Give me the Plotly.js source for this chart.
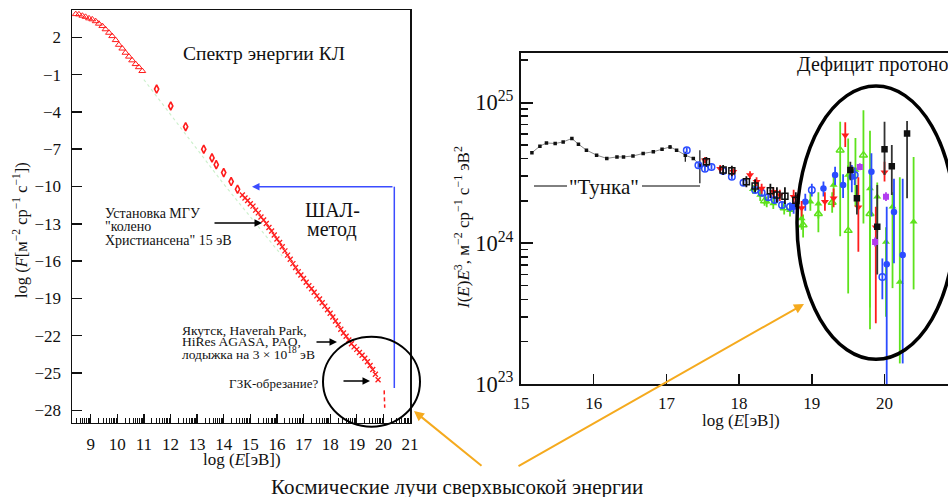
<!DOCTYPE html>
<html><head><meta charset="utf-8">
<script src="https://cdn.plot.ly/plotly-3.0.1.min.js"></script>
<style>html,body{margin:0;padding:0;overflow:hidden;background:#fff}#c{width:948px;height:497px}</style>
</head><body><div id="c"></div>
<script>
// ---------- Left panel data: log F vs log E ----------
const triX = [8.44,8.56,8.69,8.81,8.94,9.06,9.19,9.31,9.44,9.56,9.69,9.81,9.94,10.06,10.19,10.31,10.44,10.56,10.69,10.81,10.94];
const triY = [3.87,3.85,3.74,3.65,3.53,3.45,3.30,3.10,2.91,2.65,2.37,2.10,1.78,1.40,1.10,0.76,0.45,0.15,-0.15,-0.40,-0.71];
const diaX = [11.48,12.01,12.57,13.25,13.56,13.72,14.00,14.28,14.52];
const diaY = [-2.16,-3.52,-5.19,-7.00,-7.70,-8.24,-8.88,-9.60,-10.22];
const crsX = [14.7,14.8,14.9,15.0,15.1,15.2,15.3,15.4,15.5,15.6,15.7,15.8,15.9,16.0,16.1,16.2,16.3,16.4,16.5,16.6,16.7,16.8,16.9,17.0,17.1,17.2,17.3,17.4,17.5,17.6,17.7,17.8,17.9,18.0,18.1,18.2,18.3,18.4,18.5,18.6,18.7,18.8,18.9,19.0,19.1,19.2,19.3,19.4,19.5,19.6,19.7,19.8];
const crsY = [-10.68,-10.93,-11.12,-11.38,-11.58,-11.90,-12.12,-12.45,-12.70,-12.98,-13.30,-13.58,-13.90,-14.22,-14.50,-14.85,-15.18,-15.52,-15.85,-16.20,-16.52,-16.85,-17.12,-17.40,-17.70,-17.98,-18.22,-18.50,-18.80,-19.05,-19.35,-19.62,-19.92,-20.20,-20.50,-20.82,-21.12,-21.48,-21.78,-22.05,-22.35,-22.65,-22.90,-23.10,-23.35,-23.58,-23.82,-24.10,-24.40,-24.72,-25.10,-25.55];
const tailX = [20.03,20.05];
const tailY = [-26.4,-27.8];
const fitX = [11.0,12.5,14.0,16.2];
const fitY = [-1.4,-5.6,-9.8,-15.6];
const leftYTicks = [2,-1,-4,-7,-10,-13,-16,-19,-22,-25,-28];
const leftYText = ['2','\u22121','\u22124','\u22127','\u221210','\u221213','\u221216','\u221219','\u221222','\u221225','\u221228'];
const leftXTicks = [9,10,11,12,13,14,15,16,17,18,19,20,21];

// ---------- Right panel data: I(E)E^3 (units of 1e24) ----------
const U = 1e24;
const tunkaX = [15.15,15.26,15.35,15.47,15.58,15.70,15.79,15.90,16.04,16.18,16.32,16.41,16.54,16.68,16.82,16.94,17.05,17.14,17.26,17.37,17.46];
const tunkaY = [4.40,4.90,5.16,5.12,5.25,5.56,5.06,4.59,4.23,4.01,4.11,4.11,4.17,4.35,4.47,4.65,4.84,4.59,4.23,4.01,3.59];
const tunkaHi = [4.40,4.90,5.16,5.12,5.25,5.56,5.06,4.59,4.23,4.01,4.11,4.11,4.17,4.35,4.47,4.65,5.00,4.59,4.47,4.01,4.59];
const tunkaLo = [4.40,4.90,5.16,5.12,5.25,5.56,5.06,4.59,4.23,4.01,4.11,4.11,4.17,4.35,4.47,4.65,4.70,4.59,3.80,4.01,2.67];

const bOpenX = [17.55,17.78,17.90,18.10,18.22,18.43,18.52,18.63,18.78];
const bOpenY = [3.79,3.31,3.27,2.74,2.55,2.36,2.20,2.16,2.02];
const bOpenHi = [4.1,3.6,3.55,3.0,2.85,2.65,2.5,2.5,2.3];
const bOpenLo = [3.5,3.05,3.0,2.5,2.3,2.1,1.95,1.9,1.8];

const redX = [17.53,17.74,17.92,18.15,18.24,18.31,18.47,18.56,18.75,18.86,19.18,19.30,19.46,19.64,19.88,20.00];
const redY = [3.89,3.39,3.22,3.05,2.74,2.45,2.32,2.20,2.14,1.78,1.97,2.09,5.86,1.80,1.30,3.20];
const redHi = [4.1,3.6,3.4,3.25,2.95,2.65,2.5,2.4,2.4,2.0,2.3,2.45,7.24,2.95,1.82,3.8];
const redLo = [3.7,3.2,3.05,2.85,2.55,2.25,2.15,2.0,1.9,1.55,1.7,1.8,4.84,0.87,0.27,2.75];

const bluOX = [17.28,17.44,17.53,17.62,17.78,17.90,18.06,18.22,18.31,18.40,18.49,18.59,18.70,19.00,19.59,19.97];
const bluOY = [4.59,3.59,3.39,3.49,3.26,2.97,2.69,2.39,2.29,2.12,2.03,1.87,1.82,2.39,3.05,0.575];
const bluOHi = [4.8,3.75,3.55,3.65,3.4,3.1,2.82,2.5,2.4,2.23,2.14,1.98,1.95,2.65,3.45,0.78];
const bluOLo = [4.4,3.44,3.24,3.34,3.12,2.85,2.56,2.28,2.18,2.01,1.92,1.76,1.68,2.15,2.6,0.4];

const bluFX = [18.75,18.91,19.16,19.32,19.43,19.55,19.82,20.03,20.13,20.25];
const bluFY = [1.82,1.97,2.45,3.05,2.59,2.97,3.22,0.71,1.67,0.826];
const bluFHi = [2.0,2.25,2.75,3.5,3.1,3.6,4.37,1.82,2.88,2.88];
const bluFLo = [1.62,1.7,2.15,2.6,2.1,2.3,1.55,0.08,0.72,0.14];

const grFX = [18.19,18.29,18.38,18.47,18.70,18.86,18.98,19.09,19.30,19.50,19.60,19.80,19.90,20.02,20.11,20.21,20.40];
const grFY = [2.42,2.20,1.97,1.92,1.72,1.50,1.97,1.91,2.59,3.05,3.31,2.45,2.14,1.02,1.82,0.53,1.42];
const grFHi = [2.6,2.4,2.15,2.1,1.9,1.75,2.3,2.3,3.0,3.6,5.6,6.3,2.7,1.3,2.3,2.95,4.11];
const grFLo = [2.25,2.0,1.8,1.75,1.55,1.25,1.7,1.5,2.2,2.4,1.82,0.245,1.2,0.3,0.48,0.14,0.47];

const grOX = [18.35,18.62,18.88,19.09,19.28,19.39,19.50,19.71,19.80];
const grOY = [2.0,1.78,1.35,1.62,1.95,4.59,1.23,4.23,1.62];
const grOHi = [2.15,1.95,1.6,1.95,2.3,7.3,5.56,8.8,2.5];
const grOLo = [1.85,1.6,1.1,1.2,1.65,1.12,0.44,1.38,0.35];

const bFX = [19.53,19.62,19.90,20.00,20.10,20.31];
const bFY = [3.31,2.09,1.31,4.65,3.53,6.03];
const bFHi = [3.8,2.6,2.6,7.3,5.0,7.4];
const bFLo = [2.8,1.6,0.6,3.05,2.2,2.09];

const purX = [19.66,19.87,20.02];
const purY = [3.49,1.02,2.14];
const purHi = [3.7,1.1,2.3];
const purLo = [3.3,0.95,2.0];

// ---------- helpers ----------
const W = 948, H = 497;
const px = v => v / W, py = v => 1 - v / H;
const SERIF = '"Liberation Serif", "Times New Roman", Times, serif';

function series(x, y, hi, lo, symbol, color, size, lw, ecolor) {
  return {
    type: 'scatter', mode: 'markers', xaxis: 'x2', yaxis: 'y2',
    x: x, y: y.map(v => v * U),
    error_y: {type: 'data', symmetric: false,
      array: hi.map((h, i) => (h - y[i]) * U),
      arrayminus: lo.map((l, i) => (y[i] - l) * U),
      color: ecolor || color, thickness: 1.8, width: 0},
    marker: {symbol: symbol, color: color, size: size, line: {color: color, width: lw}},
    showlegend: false, hoverinfo: 'skip'
  };
}

const RED = '#ff1c1c', BLUE = '#2b4cff', GREEN = '#5ee21c', PURPLE = '#b23cf0';

const traces = [
  // left panel
  {type:'scatter', mode:'lines', x: fitX, y: fitY, xaxis:'x', yaxis:'y',
   line:{color:'#cdf0cd', width:1.2, dash:'dot'}, showlegend:false, hoverinfo:'skip'},
  {type:'scatter', mode:'markers', x: triX, y: triY, xaxis:'x', yaxis:'y',
   marker:{symbol:'triangle-up-open', size:6, color:RED, line:{color:RED, width:1}}, showlegend:false, hoverinfo:'skip'},
  {type:'scatter', mode:'markers', x: diaX, y: diaY, xaxis:'x', yaxis:'y',
   marker:{symbol:'diamond-tall-open', size:6, color:RED, line:{color:RED, width:1.6}}, showlegend:false, hoverinfo:'skip'},
  {type:'scatter', mode:'markers', x: crsX, y: crsY, xaxis:'x', yaxis:'y',
   marker:{symbol:'x-thin', size:5, color:RED, line:{color:RED, width:1.3}}, showlegend:false, hoverinfo:'skip'},
  {type:'scatter', mode:'lines', x: tailX, y: tailY, xaxis:'x', yaxis:'y',
   line:{color:RED, width:1.5, dash:'4px,3px'}, showlegend:false, hoverinfo:'skip'},
  {type:'scatter', x: [], y: [], xaxis:'x3', yaxis:'y', showlegend:false, hoverinfo:'skip'},
  // right panel
  {type:'scatter', mode:'lines+markers', xaxis:'x2', yaxis:'y2', x: tunkaX, y: tunkaY.map(v => v * U),
   line:{color:'#8a8a8a', width:1},
   error_y:{type:'data', symmetric:false, array: tunkaHi.map((h,i)=>(h-tunkaY[i])*U),
     arrayminus: tunkaLo.map((l,i)=>(tunkaY[i]-l)*U), color:'#111', thickness:1.2, width:0},
   marker:{symbol:'square', size:3.5, color:'#111'}, showlegend:false, hoverinfo:'skip'},
  series(grOX, grOY, grOHi, grOLo, 'triangle-up-open', GREEN, 7, 1.5),
  series(grFX, grFY, grFHi, grFLo, 'triangle-up', GREEN, 7, 0),
  series(bluOX, bluOY, bluOHi, bluOLo, 'circle-open', BLUE, 6.5, 1.5),
  series(bluFX, bluFY, bluFHi, bluFLo, 'circle', BLUE, 6.5, 0),
  series(redX, redY, redHi, redLo, 'triangle-down', RED, 7, 0),
  series(bOpenX, bOpenY, bOpenHi, bOpenLo, 'square-open', '#111', 6, 1.5),
  series(bFX, bFY, bFHi, bFLo, 'square', '#111', 6.5, 0, '#333'),
  series(purX, purY, purHi, purLo, 'square', PURPLE, 6, 0)
];

const tickFont = {family: SERIF, size: 17, color: '#111'};

const layout = {
  width: W, height: H, margin: {l:0, r:0, t:0, b:0},
  paper_bgcolor: '#fff', plot_bgcolor: 'rgba(0,0,0,0)', showlegend: false,
  font: {family: SERIF, color: '#111'},
  xaxis: {domain:[px(72), px(410)], anchor:'y', range:[8.3, 21], tickmode:'array', tickvals: leftXTicks,
    ticks:'', showline:true, mirror:true, linecolor:'#111', linewidth:1.5, showgrid:false, zeroline:false,
    tickfont: tickFont, ticklabelstandoff: 5},
  xaxis3: {type:'log', overlaying:'x', anchor:'y', range:[8.3, 21], dtick:1, showticklabels:false,
    ticks:'inside', ticklen:9, tickwidth:1.3, tickcolor:'#111', showline:false, showgrid:false, zeroline:false,
    minor:{ticks:'inside', ticklen:5, tickwidth:1, tickcolor:'#111', dtick:'D1', showgrid:false}},
  yaxis: {domain:[py(422.7), py(10)], anchor:'x', range:[-29, 4.2], tickmode:'array', tickvals: leftYTicks,
    ticktext: leftYText, ticks:'inside', ticklen:10, tickwidth:1.5, tickcolor:'#111',
    showline:true, mirror:true, linecolor:'#111', linewidth:1.5, showgrid:false, zeroline:false,
    tickfont: tickFont, ticklabelstandoff: 6},
  xaxis2: {domain:[px(521), 1], anchor:'y2', range:[15, 20.873], dtick:1, tick0:15,
    ticks:'inside', ticklen:10, tickwidth:1.5, tickcolor:'#111', showline:true, mirror:true,
    linecolor:'#111', linewidth:2, showgrid:false, zeroline:false, tickfont: tickFont, ticklabelstandoff: 3},
  yaxis2: {domain:[py(384), py(53.3)], anchor:'x2', type:'log', range:[23, 25.35], dtick:1,
    exponentformat:'power', ticks:'inside', ticklen:12, tickwidth:2, tickcolor:'#111',
    showline:true, mirror:false, linecolor:'#111', linewidth:2, showgrid:false, zeroline:false,
    tickfont: {family: SERIF, size: 18, color: '#111'}, ticklabelstandoff: 2,
    minor:{ticks:'inside', ticklen:7, tickwidth:1.5, tickcolor:'#111', dtick:'D1', showgrid:false}},
  shapes: [
    {type:'line', xref:'paper', yref:'paper', x0:px(394.3), x1:px(394.3), y0:py(186.7), y1:py(388),
     line:{color:'#3b4cff', width:1.5}},
    {type:'circle', xref:'paper', yref:'paper', x0:px(323), x1:px(420), y0:py(336.7), y1:py(426.7),
     line:{color:'#000', width:2}},
    {type:'circle', xref:'paper', yref:'paper', x0:px(797), x1:px(955), y0:py(86), y1:py(359.3),
     line:{color:'#000', width:3.5}},
    {type:'line', xref:'paper', yref:'paper', x0:px(534), x1:px(567), y0:py(186), y1:py(186),
     line:{color:'#000', width:1}},
    {type:'line', xref:'paper', yref:'paper', x0:px(642), x1:px(700), y0:py(186), y1:py(186),
     line:{color:'#000', width:1}}
  ],
  annotations: []
};

function txt(x, y, text, size, xanchor, extra) {
  return Object.assign({xref:'paper', yref:'paper', x:px(x), y:py(y), text:text, showarrow:false,
    xanchor: xanchor || 'center', yanchor:'middle', font:{family:SERIF, size:size, color:'#111'}}, extra || {});
}
function arrow(x, y, ax, ay, color, width) {
  return {xref:'paper', yref:'paper', x:px(x), y:py(y), ax:ax, ay:ay, text:'', showarrow:true,
    arrowhead:2, arrowsize:1, arrowwidth:width, arrowcolor:color, standoff:0};
}

layout.annotations.push(
  txt(264, 53, 'Спектр энергии КЛ', 19.5),
  txt(332, 210, 'ШАЛ-', 20),
  txt(332, 229, 'метод', 20),
  txt(103, 213, 'Установка МГУ', 14, 'left'),
  txt(103, 226.5, '"колено', 14, 'left'),
  txt(103, 240, 'Христиансена" 15 эВ', 14, 'left'),
  txt(180, 330, 'Якутск, Haverah Park,', 13.5, 'left'),
  txt(180, 341.7, 'HiRes AGASA, PAO,', 13.5, 'left'),
  txt(180, 353.3, 'лодыжка на 3 × 10<sup>18</sup> эВ', 13.5, 'left'),
  txt(226.7, 383, 'ГЗК-обрезание?', 13, 'left'),
  txt(457, 487, 'Космические лучи сверхвысокой энергии', 21),
  txt(604, 187, '"Тунка"', 21),
  txt(795, 65, 'Дефицит протонов', 20, 'left'),
  txt(242, 459, 'log (<i>E</i>[эВ])', 17),
  txt(741, 420, 'log (<i>E</i>[эВ])', 17),
  txt(21, 230, 'log (<i>F</i>[м<sup>−2</sup> ср<sup>−1</sup> с<sup>−1</sup>])', 16.5, 'center', {textangle:-90}),
  txt(462, 228, '<i>I</i>(<i>E</i>)<i>E</i><sup>3</sup>, м<sup>−2</sup> ср<sup>−1</sup> с<sup>−1</sup> эВ<sup>2</sup>', 17, 'center', {textangle:-90}),
  arrow(262, 223, -49, 0, '#000', 1.5),
  arrow(337, 342, -22, 0, '#000', 1.5),
  arrow(370, 381, -28, 0, '#000', 1.5),
  arrow(252, 186.7, 142, 0, '#3b4cff', 1.5),
  arrow(414, 411, 69, 56, '#f5aa1e', 2),
  arrow(804, 304, -287, 163, '#f5aa1e', 2)
);

Plotly.newPlot('c', traces, layout, {staticPlot:true, displayModeBar:false});
</script>
</body></html>
